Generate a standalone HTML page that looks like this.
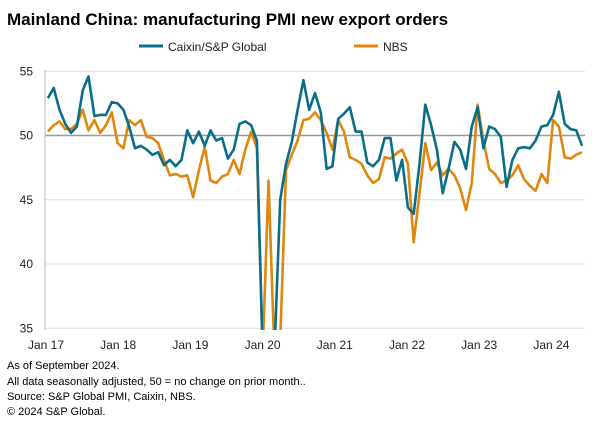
<!DOCTYPE html>
<html><head><meta charset="utf-8">
<style>
body{margin:0;background:#fff;font-family:"Liberation Sans",Arial,sans-serif;}
#wrap{position:relative;width:607px;height:446px;overflow:hidden;}
svg text{font-family:"Liberation Sans",Arial,sans-serif;}
</style></head>
<body><div id="wrap">
<svg id="chart" width="607" height="446">
<text x="7" y="25" font-size="17" font-weight="bold" fill="#000">Mainland China: manufacturing PMI new export orders</text>
<g>
<line x1="139" y1="46" x2="163" y2="46" stroke="#0b6d88" stroke-width="3"/>
<text x="168" y="51" font-size="12" fill="#222">Caixin/S&amp;P Global</text>
<line x1="354" y1="46" x2="378" y2="46" stroke="#e0870f" stroke-width="3"/>
<text x="383" y="51" font-size="12" fill="#222">NBS</text>
</g>
<g id="grid"></g><g id="yticks"></g><g id="xticks"></g>
<defs><clipPath id="pc"><rect x="44" y="70" width="545" height="260"/></clipPath></defs>
<g id="series" clip-path="url(#pc)"></g>
<g font-size="11" fill="#000">
<text x="7" y="369">As of September 2024.</text>
<text x="7" y="385">All data seasonally adjusted, 50 = no change on prior month..</text>
<text x="7" y="400">Source: S&amp;P Global PMI,  Caixin, NBS.</text>
<text x="7" y="415">© 2024 S&amp;P Global.</text>
</g>
</svg></div>
<script>
const yTicks=[35,40,45,50,55];
const xLabels=["Jan 17","Jan 18","Jan 19","Jan 20","Jan 21","Jan 22","Jan 23","Jan 24"];
const caixin=[52.9,53.7,52.0,50.9,50.2,50.7,53.5,54.6,51.5,51.6,51.6,52.6,52.5,52.0,50.7,49.0,49.2,48.9,48.5,48.7,47.7,48.1,47.6,48.1,50.4,49.4,50.3,49.2,50.4,49.6,49.8,48.2,48.9,50.9,51.1,50.8,49.6,33,34,33,45,47.8,49.5,52,54.3,52.0,53.3,51.8,47.4,47.6,51.3,51.7,52.2,50.3,50.3,47.9,47.6,48.1,49.8,49.8,46.5,48.1,44.4,43.9,47.8,52.4,50.8,48.9,45.5,47.4,49.5,48.9,47.4,50.7,52.2,49.0,50.7,50.5,49.9,46.0,48.1,49.0,49.1,49.0,49.6,50.7,50.8,51.6,53.4,50.9,50.5,50.4,49.2];
const nbs=[50.3,50.8,51.1,50.5,50.5,50.9,52.0,50.4,51.2,50.2,50.8,51.8,49.4,49.0,51.2,50.8,51.2,49.9,49.8,49.4,48.1,46.9,47.0,46.8,46.9,45.2,47.3,49.1,46.5,46.3,46.8,47.0,48.1,47.0,48.9,50.3,49.0,33,46.5,33,34,47.3,48.5,49.6,51.2,51.3,51.8,51.2,50.2,48.9,51.2,50.3,48.3,48.1,47.8,46.9,46.3,46.6,48.3,48.2,48.6,48.9,47.8,41.7,45.5,49.4,47.3,47.9,46.9,47.4,46.9,45.9,44.2,46.3,52.4,49.6,47.4,47.0,46.3,46.5,46.9,47.7,46.6,46.1,45.7,47.0,46.3,51.2,50.7,48.3,48.2,48.5,48.7];
const NS="http://www.w3.org/2000/svg";
const L=45,R=585,N=93,w=(R-L)/N;
const xs=i=>L+(i+0.5)*w;
const ys=v=>135.5-(v-50)*12.85;
const mk=(t,a)=>{const e=document.createElementNS(NS,t);for(const k in a)e.setAttribute(k,a[k]);return e;};
const grid=document.getElementById('grid'),yt=document.getElementById('yticks'),xt=document.getElementById('xticks'),se=document.getElementById('series');
yTicks.forEach(t=>{
 const ln=mk('line',{x1:L,x2:R,y1:ys(t),y2:ys(t),stroke:t===50?'#999':'#ddd','stroke-width':t===50?1.5:1});
 
 
 grid.appendChild(ln);
 const tx=mk('text',{x:33,y:ys(t)+4,'font-size':12,'text-anchor':'end',fill:'#222'});
 tx.textContent=t;
 
 
 yt.appendChild(tx);
});
const ax=mk('line',{x1:L,x2:L,y1:70,y2:330,stroke:'#bbb','stroke-width':1});


grid.appendChild(ax);
xLabels.forEach((s,k)=>{
 const tx=mk('text',{x:46+72.2*k,y:349,'font-size':12,'text-anchor':'middle',fill:'#222'});
 tx.textContent=s;
 
 
 xt.appendChild(tx);
});
function draw(d,c,name){
 const p=mk('polyline',{points:d.map((v,i)=>xs(i).toFixed(1)+','+ys(v).toFixed(1)).join(' '),fill:'none',stroke:c,'stroke-width':2.6,'stroke-linejoin':'round'});
 
 
 se.appendChild(p);
}
draw(nbs,'#e0870f','nbs-line');
draw(caixin,'#0b6d88','caixin-line');
</script>
</body></html>
